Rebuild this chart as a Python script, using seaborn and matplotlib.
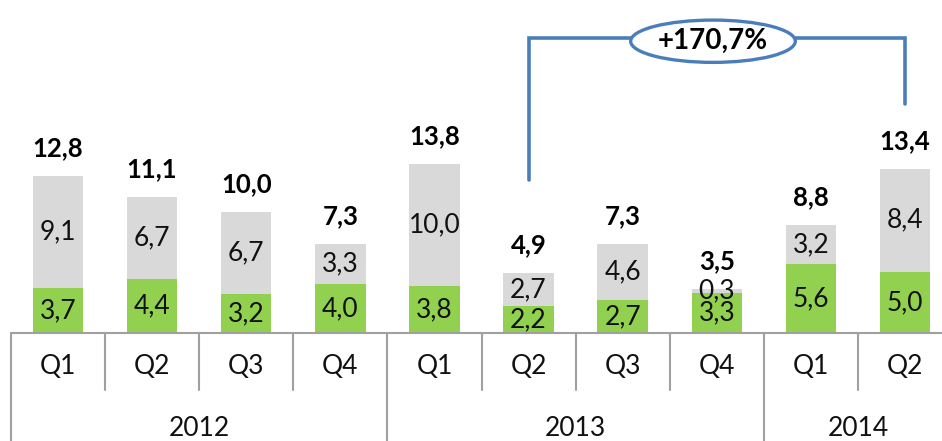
import matplotlib
matplotlib.use("Agg")
import matplotlib.pyplot as plt
from matplotlib.patches import Ellipse
import seaborn as sns
import pandas as pd

# Quarterly values (two components per quarter) and the stated totals
quarters = ["Q1", "Q2", "Q3", "Q4", "Q1", "Q2", "Q3", "Q4", "Q1", "Q2"]
years = ["2012", "2013", "2014"]
year_quarters = [4, 4, 2]
base_values = [3.7, 4.4, 3.2, 4.0, 3.8, 2.2, 2.7, 3.3, 5.6, 5.0]
top_values = [9.1, 6.7, 6.7, 3.3, 10.0, 2.7, 4.6, 0.3, 3.2, 8.4]
total_labels = [12.8, 11.1, 10.0, 7.3, 13.8, 4.9, 7.3, 3.5, 8.8, 13.4]
growth_label = "+170,7%"

GREEN = "#92D050"
GREY = "#D9D9D9"
BLUE = "#4A7EBB"
RULE = "#A0A0A0"

sns.set_theme(style="white")
plt.rcParams["font.family"] = ["Lato", "DejaVu Sans"]

W, H = 942, 441
fig = plt.figure(figsize=(W / 100, H / 100), dpi=100)
base_px = 333          # baseline, pixels from top
left_px = 11
slot_px = 94.1
n = len(quarters)
ymax = 27.0
ax_h_px = base_px - 2
ax = fig.add_axes([left_px / W, (H - base_px) / H, slot_px * n / W, ax_h_px / H])

df = pd.DataFrame({
    "pos": list(range(n)),
    "base": base_values,
    "stack": [b + t for b, t in zip(base_values, top_values)],
})

bw = 0.535
sns.barplot(data=df, x="pos", y="stack", color=GREY, width=bw, saturation=1,
            ax=ax, linewidth=0, order=list(range(n)))
sns.barplot(data=df, x="pos", y="base", color=GREEN, width=bw, saturation=1,
            ax=ax, linewidth=0, order=list(range(n)))

ax.set_xlim(-0.5, n - 0.5)
ax.set_ylim(0, ymax)
ax.set_xlabel("")
ax.set_ylabel("")
ax.set_xticks([])
ax.set_yticks([])
for s in ax.spines.values():
    s.set_visible(False)

def fmt(v):
    return f"{v:.1f}".replace(".", ",")

seg_fs = 19
for i in range(n):
    b = base_values[i]
    t = top_values[i]
    ax.text(i, b / 2, fmt(b), ha="center", va="center", fontsize=seg_fs, color="#111111")
    ax.text(i, b + t / 2, fmt(t), ha="center", va="center", fontsize=seg_fs, color="#111111")
    ax.annotate(fmt(total_labels[i]), xy=(i, b + t), xytext=(0, 20),
                textcoords="offset points", ha="center", va="center",
                fontsize=18.5, fontweight="bold", color="black")

# Category axis below the bars
def below(px):
    return -(px - base_px) / ax_h_px

xt = ax.get_xaxis_transform()
ax.plot([-0.5, n - 0.5], [0, 0], color=RULE, lw=1.5, transform=xt, clip_on=False)
for i in range(n):
    ax.text(i, below(367), quarters[i], ha="center", va="center",
            fontsize=seg_fs, color="#111111", transform=xt)
start = 0
bounds = [0]
for y, k in zip(years, year_quarters):
    ax.text(start + (k - 1) / 2, below(428), y, ha="center", va="center",
            fontsize=seg_fs, color="#111111", transform=xt)
    start += k
    bounds.append(start)
for j in range(n + 1):
    xb = j - 0.5
    bottom = below(H) if j in bounds else below(390)
    ax.plot([xb, xb], [0, bottom], color=RULE, lw=1.5, transform=xt, clip_on=False)

# Growth bracket between Q2 2013 and Q2 2014
x_from, x_to = 5, 9
y_top = 24.1
ax.plot([x_from, x_from, x_to, x_to], [12.5, y_top, y_top, 18.7],
        color=BLUE, lw=2.6, solid_joinstyle="miter", clip_on=False)
ell = Ellipse((6.96, 23.8), width=1.75, height=3.45, facecolor="white",
              edgecolor=BLUE, lw=2.4, zorder=5, clip_on=False)
ax.add_patch(ell)
ax.text(6.96, 23.8, growth_label, ha="center", va="center", fontsize=20,
        fontweight="bold", color="black", zorder=6)

fig.savefig("out.png", dpi=100)
